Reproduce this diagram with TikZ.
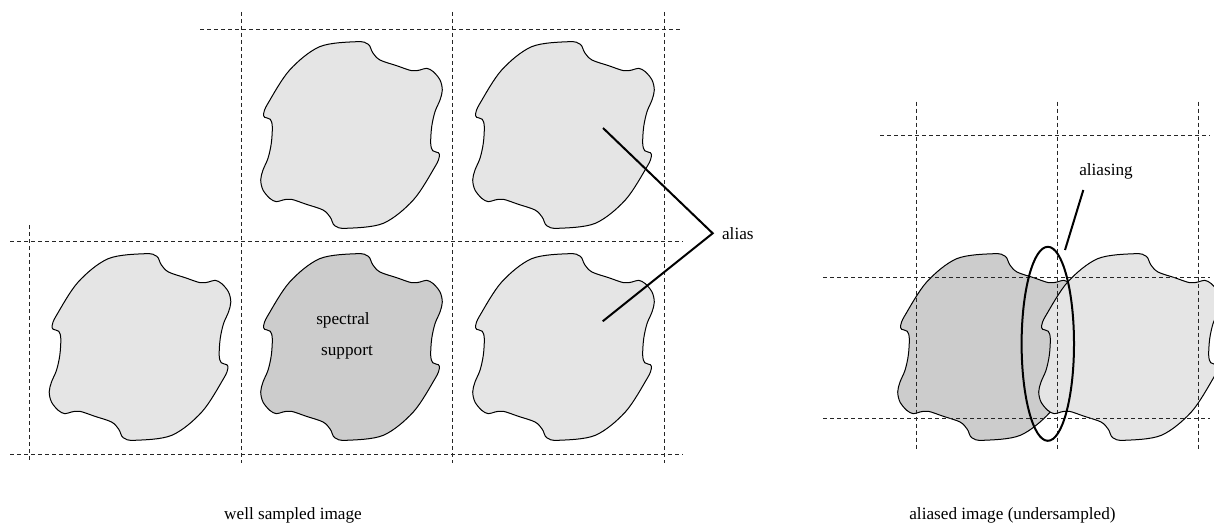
\documentclass[tikz,border=0pt]{standalone}
\usepackage{fontspec}
\setmainfont{Liberation Serif}
\usetikzlibrary{shapes.geometric}
\begin{document}
\begin{tikzpicture}[x=0.5pt,y=-0.5pt,
  blob/.style={draw=black,line width=0.5pt,fill=black!10},
  darkblob/.style={blob,fill=black!20},
  grid/.style={draw=black!85,line width=0.5pt,dash pattern=on 2pt off 1.5pt},
  pointer/.style={draw=black,line width=1pt},
  lbl/.style={inner sep=0pt,font=\fontsize{8.6}{10}\selectfont}]
\useasboundingbox (0,0) rectangle (1214,523);
\clip (0,0) rectangle (1214,523);
\newcommand\blobshape{plot[smooth cycle,tension=0.55] coordinates {
 (5.2,-93.3) (16.8,-90.7) (21.2,-82.3) (28.5,-75) (45.2,-69.3) (60.2,-64.3)
 (68.5,-65) (75.2,-66.7) (81.8,-63.3) (88.5,-55) (90.8,-45) (88.5,-35)
 (83.5,-23.3) (80.2,-8.3) (79.2,8.3) (81.2,15.7) (86.8,17.7) (87.8,21.7)
 (83.5,31.7) (61.8,65) (31.8,88.3)
 (-5.2,93.3) (-16.8,90.7) (-21.2,82.3) (-28.5,75) (-45.2,69.3) (-60.2,64.3)
 (-68.5,65) (-75.2,66.7) (-81.8,63.3) (-88.5,55) (-90.8,45) (-88.5,35)
 (-83.5,23.3) (-80.2,8.3) (-79.2,-8.3) (-81.2,-15.7) (-86.8,-17.7) (-87.8,-21.7)
 (-83.5,-31.7) (-61.8,-65) (-31.8,-88.3)}}
% left: well sampled
\path[blob,shift={(351.5,135)}] \blobshape;
\path[blob,shift={(563.5,135)}] \blobshape;
\path[blob,shift={(140,347)}] \blobshape;
\path[darkblob,shift={(351.5,347)}] \blobshape;
\path[blob,shift={(563.5,347)}] \blobshape;
\draw[grid] (200,30) -- (683,30);
\draw[grid] (10,242) -- (683,242);
\draw[grid] (10,454) -- (683,454);
\draw[grid] (29,225) -- (29,463);
\draw[grid] (241,12) -- (241,463);
\draw[grid] (452.5,12) -- (452.5,463);
\draw[grid] (664.5,12) -- (664.5,463);
\node[lbl] (spectral) at (343,320) {spectral};
\node[lbl] (support) at (347,352) {support};
\node[lbl,anchor=west] (alias) at (721.7,233.3) {alias};
\coordinate (aliasjoin) at (712.7,233.3);
\coordinate (aliasA) at (603,128);
\coordinate (aliasB) at (602.7,321.3);
\draw[pointer] (aliasA) -- (aliasjoin) -- (aliasB);
\node[lbl] (well) at (293,515) {well sampled image};
% right: aliased
\path[darkblob,shift={(988.5,347)}] \blobshape;
\path[blob,shift={(1129.5,347)}] \blobshape;
\draw[grid] (880,136) -- (1210,136);
\draw[grid] (823,277.7) -- (1210,277.7);
\draw[grid] (823,418.7) -- (1210,418.7);
\draw[grid] (916,101.7) -- (916,450);
\draw[grid] (1057,101.7) -- (1057,450);
\draw[grid] (1198,101.7) -- (1198,450);
\node[draw=black,line width=1pt,ellipse,minimum width=26.2pt,minimum height=97pt,inner sep=0pt] (ell) at (1047.8,343.8) {};
\node[lbl] (aliasing) at (1106,171) {aliasing};
\coordinate (aliasingtip) at (1083.3,190);
\draw[pointer] (aliasingtip) -- (1065,250);
\node[lbl] (aliased) at (1012.5,515) {aliased image (undersampled)};
\end{tikzpicture}
\end{document}
